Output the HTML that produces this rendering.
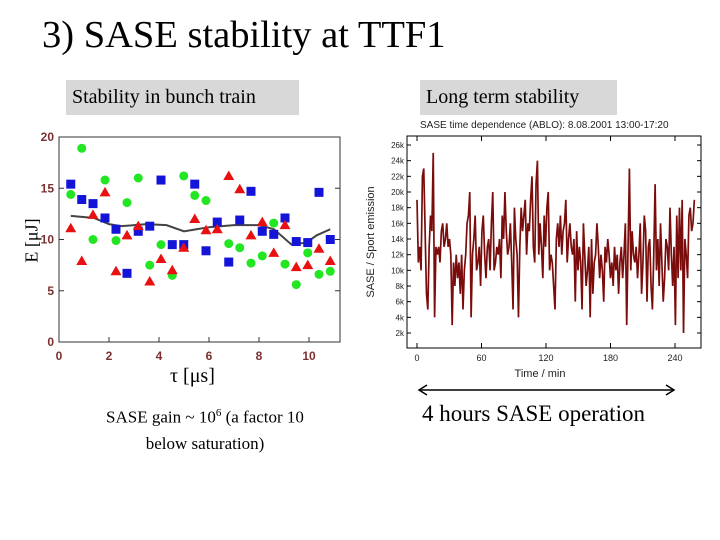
<!DOCTYPE html>
<html><head><meta charset="utf-8"><style>
body{margin:0;width:720px;height:540px;background:#fff;position:relative;overflow:hidden;font-family:"Liberation Serif",serif}
.t{position:absolute;white-space:nowrap;color:#000}
.box{position:absolute;background:#d8d8d8;font-size:20px;line-height:35px;padding-left:6px}
</style></head><body>
<div class="t" style="left:42px;top:13px;font-size:38.5px">3) SASE stability at TTF1</div>
<div class="box" style="left:66px;top:80px;width:227px">Stability in bunch train</div>
<div class="box" style="left:420px;top:80px;width:191px">Long term stability</div>
<div class="t" style="left:10px;top:230px;font-size:18px;transform:rotate(-90deg);transform-origin:center">E [μJ]</div>
<div class="t" style="left:170px;top:365px;font-size:20px">τ [μs]</div>
<div class="t" style="left:60px;top:400px;width:290px;text-align:center;font-size:17px;line-height:26px">SASE gain ~ 10<sup style="font-size:11px">6</sup> (a factor 10<br>below saturation)</div>
<div class="t" style="left:422px;top:401px;font-size:23px">4 hours SASE operation</div>
<svg width="720" height="540" style="position:absolute;left:0;top:0">
<g id="left"></g>
<g id="right"></g>
<g stroke="#000" stroke-width="1.5" fill="none">
<line x1="419" y1="390" x2="674" y2="390"/><path d="M427 385 L419 390 L427 395"/><path d="M666 385 L674 390 L666 395"/></g>
</svg>
<script>
const ns="http://www.w3.org/2000/svg";
function mk(p,t,a){const e=document.createElementNS(ns,t);for(const k in a)e.setAttribute(k,a[k]);p.appendChild(e);return e;}
// Left chart data
const tauX=[0.47,0.91,1.36,1.84,2.28,2.72,3.17,3.63,4.08,4.53,4.99,5.43,5.88,6.33,6.79,7.23,7.68,8.13,8.59,9.04,9.49,9.95,10.4,10.85];
const blueY=[15.4,13.9,13.5,12.1,11.0,6.7,10.8,11.3,15.8,9.5,9.5,15.4,8.9,11.7,7.8,11.9,14.7,10.8,10.5,12.1,9.8,9.7,14.6,10.0];
const greenY=[14.4,18.9,10.0,15.8,9.9,13.6,16.0,7.5,9.5,6.5,16.2,14.3,13.8,null,9.6,9.2,7.7,8.4,11.6,7.6,5.6,8.7,6.6,6.9];
const redY=[11.1,7.9,12.4,14.6,6.9,10.4,11.3,5.9,8.1,7.0,9.2,12.0,10.9,11.0,16.2,14.9,10.4,11.7,8.7,11.4,7.3,7.5,9.1,7.9];
const avgX=[0.47,1.4,2.0,2.5,3.5,4.3,5.0,5.5,6.0,7.0,8.0,8.6,9.3,9.9,10.3,10.85];
const avgY=[12.3,12.1,11.5,11.3,11.5,11.4,10.8,11.0,11.2,11.4,11.4,11.0,9.5,9.7,10.4,11.0];
const lxTicks=[0,2,4,6,8,10], lyTicks=[0,5,10,15,20];
const L=document.getElementById('left');
const lx=v=>59+v*25, ly=v=>342-v*10.25;
mk(L,'rect',{x:59,y:137,width:281,height:205,fill:'#fff',stroke:'#333','stroke-width':1});
lxTicks.forEach(v=>{mk(L,'line',{x1:lx(v),y1:342,x2:lx(v),y2:337,stroke:'#333'});const t=mk(L,'text',{x:lx(v),y:360,'font-size':12,'font-family':'Liberation Sans','font-weight':'bold','text-anchor':'middle',fill:'#7a3030'});t.textContent=v;});
lyTicks.forEach(v=>{mk(L,'line',{x1:59,y1:ly(v),x2:64,y2:ly(v),stroke:'#333'});mk(L,'line',{x1:340,y1:ly(v),x2:335,y2:ly(v),stroke:'#333'});const t=mk(L,'text',{x:54,y:ly(v)+4,'font-size':12,'font-family':'Liberation Sans','font-weight':'bold','text-anchor':'end',fill:'#7a3030'});t.textContent=v;});
mk(L,'polyline',{points:avgX.map((x,i)=>lx(x)+','+ly(avgY[i])).join(' '),fill:'none',stroke:'#444','stroke-width':2});
tauX.forEach((x,i)=>{
 if(greenY[i]!=null){const c=mk(L,'circle',{cx:lx(x),cy:ly(greenY[i]),r:4.5,fill:'#22e622'});}
 const s=mk(L,'rect',{x:lx(x)-4.5,y:ly(blueY[i])-4.5,width:9,height:9,fill:'#1414d8'});
 const X=lx(x),Y=ly(redY[i]);const tr=mk(L,'polygon',{points:`${X},${Y-5.5} ${X-5.5},${Y+4} ${X+5.5},${Y+4}`,fill:'#e81010'});
});
// Right chart data
const sase=[19,11,13,10,22,23,15,7,5,13,17,15,25,4,13,12,13,11,15,16,13,14,16,13,14,12,3,11,8,12,9,11,7,12,5,10,12,16,17,20,4,12,14,17,10,11,13,8,15,17,12,9,13,14,10,16,20,10,11,13,12,14,9,17,14,20,15,12,13,16,11,5,18,14,12,4,13,18,15,17,19,12,16,15,19,22,13,11,21,24,12,16,13,9,17,13,18,20,10,12,11,8,5,14,16,13,17,12,15,16,19,11,14,16,13,12,14,6,15,10,13,11,5,16,12,8,10,13,4,14,7,11,12,16,13,9,12,10,6,13,11,14,12,9,11,8,13,10,12,7,11,13,9,12,16,3,13,23,10,15,12,11,13,9,12,16,7,11,17,15,6,13,14,8,5,12,21,10,14,8,16,11,6,9,14,13,10,18,12,8,13,3,17,9,18,10,19,2,14,12,9,17,18,15,16,19];
const rxTicks=[0,60,120,180,240];
const ryTicks=[2,4,6,8,10,12,14,16,18,20,22,24,26];
const R=document.getElementById('right');
const rx=v=>417+v*(258/240), ry=v=>145+(26-v)*(188/24);
const tt=mk(R,'text',{x:420,y:128,'font-size':10,'font-family':'Liberation Sans',fill:'#222'});tt.textContent='SASE time dependence (ABLO): 8.08.2001 13:00-17:20';
mk(R,'rect',{x:407,y:136,width:294,height:212,fill:'#fff',stroke:'#000','stroke-width':1});
rxTicks.forEach(v=>{mk(R,'line',{x1:rx(v),y1:348,x2:rx(v),y2:343,stroke:'#000'});mk(R,'line',{x1:rx(v),y1:136,x2:rx(v),y2:141,stroke:'#000'});const t=mk(R,'text',{x:rx(v),y:361,'font-size':9,'font-family':'Liberation Sans','text-anchor':'middle',fill:'#222'});t.textContent=v;});
ryTicks.forEach(v=>{mk(R,'line',{x1:407,y1:ry(v),x2:411,y2:ry(v),stroke:'#000'});mk(R,'line',{x1:701,y1:ry(v),x2:697,y2:ry(v),stroke:'#000'});const t=mk(R,'text',{x:404,y:ry(v)+3,'font-size':8,'font-family':'Liberation Sans','text-anchor':'end',fill:'#222'});t.textContent=v+'k';});
const n=sase.length;
const ln=mk(R,'polyline',{points:sase.map((v,i)=>rx(i*258/(n-1))+','+ry(v)).join(' '),fill:'none',stroke:'#7a0c0c','stroke-width':1.7});


const xl=mk(R,'text',{x:540,y:377,'font-size':11,'font-family':'Liberation Sans','text-anchor':'middle',fill:'#222'});xl.textContent='Time / min';
const yl=mk(R,'text',{x:374,y:242,'font-size':11,'font-family':'Liberation Sans','text-anchor':'middle',fill:'#222',transform:'rotate(-90 374 242)'});yl.textContent='SASE / Sport emission';
</script>
</body></html>
